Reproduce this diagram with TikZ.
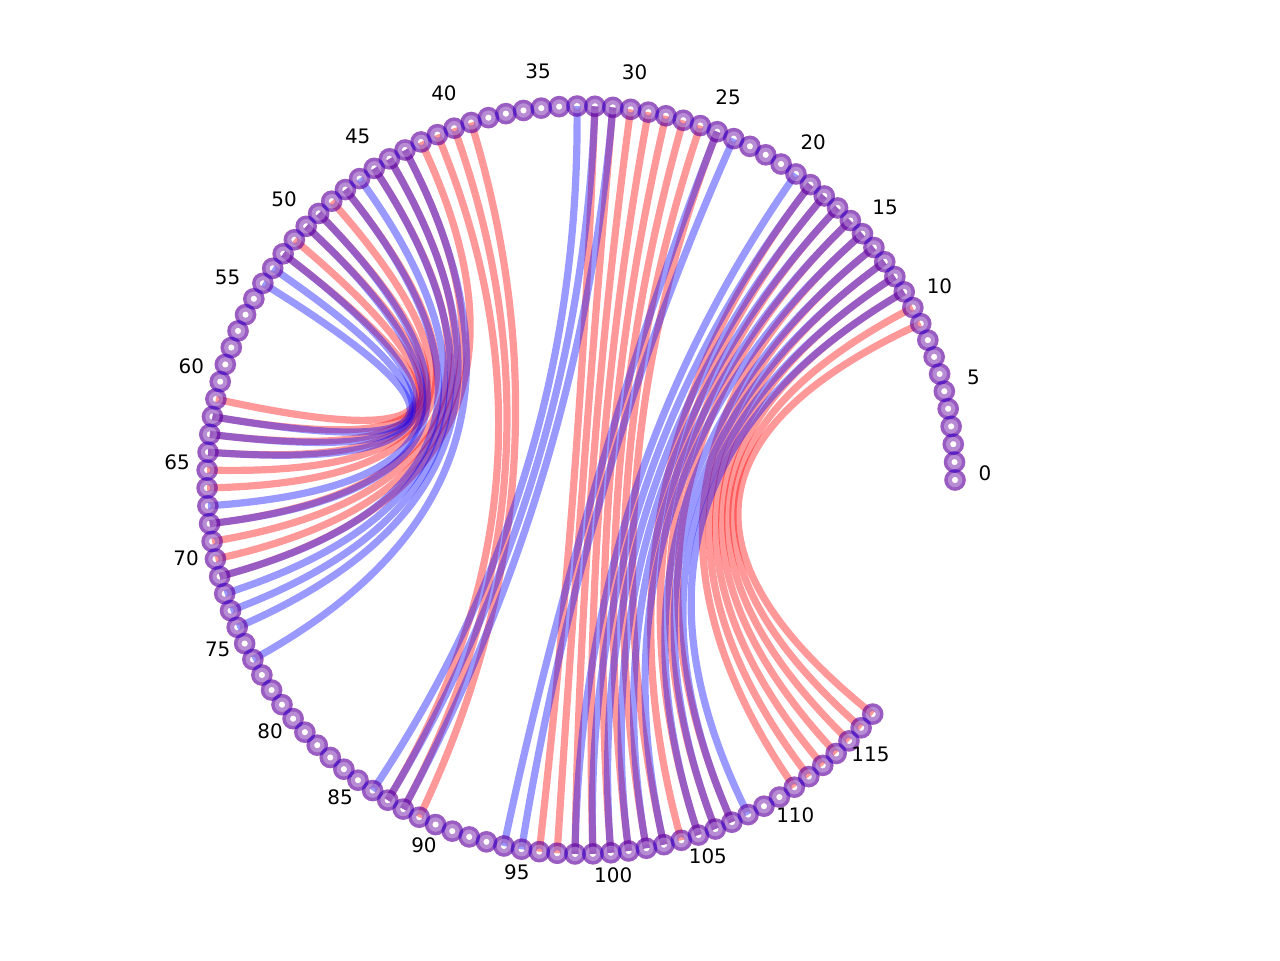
\documentclass[tikz,border=0pt]{standalone}
\usepackage{fontspec}
\setmainfont{DejaVu Sans}
\usetikzlibrary{calc}
\tikzset{
  redchord/.style={draw=red, draw opacity=0.4, line width=3.6bp},
  bluechord/.style={draw=blue, draw opacity=0.4, line width=3.6bp},
  redring/.style={fill=red, fill opacity=0.4, even odd rule},
  bluering/.style={fill=blue, fill opacity=0.4, even odd rule},
  innerband/.style={fill=white, fill opacity=0.3, even odd rule},
  idxlabel/.style={inner sep=0pt, font=\fontsize{10}{12}\selectfont}
}
\begin{document}
\begin{tikzpicture}[x=0.5bp,y=-0.5bp]
\useasboundingbox (0,0) rectangle (1280,960);
\coordinate (c) at (581,480);
\foreach \i in {0,...,117}{
  \pgfmathsetmacro{\a}{\i*2.745763}
  \coordinate (n\i) at ({581+374*cos(\a)},{480-374*sin(\a)});
}
% red chords
\foreach \p/\q in {9/117,10/116,11/115,12/114,13/113,14/112,15/111,
  16/107,17/106,18/105,19/104,
  25/103,26/102,27/101,28/100,29/99,30/98,31/97,32/96,
  39/89,40/88,41/87,
  42/71,43/70,44/69,45/68,47/66,48/65,49/64,50/63,51/62,52/61}{
  \draw[redchord] (n\p) .. controls ($(n\p)!0.6667!(c)$) and ($(n\q)!0.6667!(c)$) .. (n\q);
}
% blue chords
\foreach \p/\q in {11/108,12/107,13/106,14/105,15/103,16/102,17/101,18/100,19/99,20/98,24/95,25/94,
  31/88,32/87,33/86,
  43/76,44/74,45/73,46/72,47/71,49/68,50/67,52/64,53/63,54/62}{
  \draw[bluechord] (n\p) .. controls ($(n\p)!0.6667!(c)$) and ($(n\q)!0.6667!(c)$) .. (n\q);
}
% node rings
\foreach \i in {0,...,117}{
  \fill[redring] (n\i) circle (5.4bp) (n\i) circle (1.65bp);
}
\foreach \i in {0,...,117}{
  \fill[bluering] (n\i) circle (5.4bp) (n\i) circle (1.65bp);
}
\foreach \i in {0,...,117}{
  \fill[innerband] (n\i) circle (3.6bp) (n\i) circle (1.65bp);
}
% labels
\foreach \i in {0,5,...,115}{
  \pgfmathsetmacro{\a}{\i*2.745763}
  \node[idxlabel] (l\i) at ({581+404*cos(\a)},{473-404*sin(\a)}) {\i};
}
\end{tikzpicture}
\end{document}
